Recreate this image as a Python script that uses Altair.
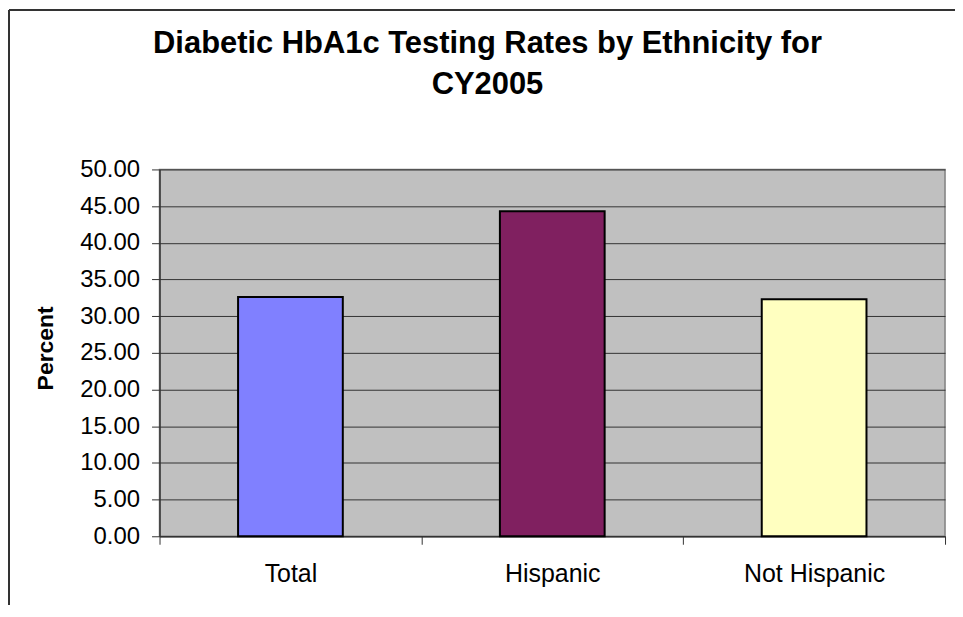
import altair as alt
import pandas as pd

categories = ["Total", "Hispanic", "Not Hispanic"]
values = [32.6, 44.3, 32.3]
colors = ["#8080FF", "#802060", "#FFFFC0"]
y_ticks = [0, 5, 10, 15, 20, 25, 30, 35, 40, 45, 50]

df = pd.DataFrame({"Ethnicity": categories, "Percent": values})

FONT = "Liberation Sans"

bars = alt.Chart(df).mark_bar(stroke="#000000", strokeWidth=2,
                              width=alt.RelativeBandSize(0.4)).encode(
    x=alt.X("Ethnicity:N", sort=categories,
            scale=alt.Scale(paddingInner=0, paddingOuter=0),
            axis=alt.Axis(title=None, labelAngle=0, labelFontSize=25, labelFont=FONT,
                          labelColor="#000000", tickBand="extent", tickSize=8,
                          tickColor="#333333", domainColor="#333333", domainWidth=1.5,
                          labelPadding=17, grid=False)),
    y=alt.Y("Percent:Q", scale=alt.Scale(domain=[0, 50], nice=False),
            axis=alt.Axis(values=y_ticks, format=".2f", labelFontSize=24, labelFont=FONT,
                          labelColor="#000000", tickSize=8, tickColor="#333333",
                          domainColor="#333333", domainWidth=1.5, labelPadding=12,
                          gridColor="#333333", gridWidth=1, grid=True,
                          title="Percent", titleFontSize=23, titleFont=FONT,
                          titleFontWeight="bold", titleColor="#000000",
                          titleAngle=270, titleAlign="center", titleBaseline="alphabetic",
                          titleX=-107, titleY=179)),
    color=alt.Color("Ethnicity:N", sort=categories,
                    scale=alt.Scale(domain=categories, range=colors), legend=None),
)

frame_left = alt.Chart(df).mark_rule(color="#333333", strokeWidth=2).encode(
    x=alt.value(-151), y=alt.value(-160), y2=alt.value(448))
frame_top = alt.Chart(df).mark_rule(color="#333333", strokeWidth=2).encode(
    x=alt.value(-151), x2=alt.value(810), y=alt.value(-160))

chart = alt.layer(frame_left, frame_top, bars).properties(
    width=788, height=368,
    autosize=alt.AutoSizeParams(type="none"),
    padding={"left": 152, "top": 161, "right": 10, "bottom": 68},
    title=alt.TitleParams(
        text=["Diabetic HbA1c Testing Rates by Ethnicity for", "CY2005"],
        fontSize=31, font=FONT, fontWeight="bold", color="#000000",
        anchor="middle", baseline="alphabetic", lineHeight=41, offset=0, dy=116, dx=-65),
).configure_view(fill="#C0C0C0", stroke="#808080", strokeWidth=1.5)

chart.save("out.html", embed_options={"renderer": "svg", "actions": False})
